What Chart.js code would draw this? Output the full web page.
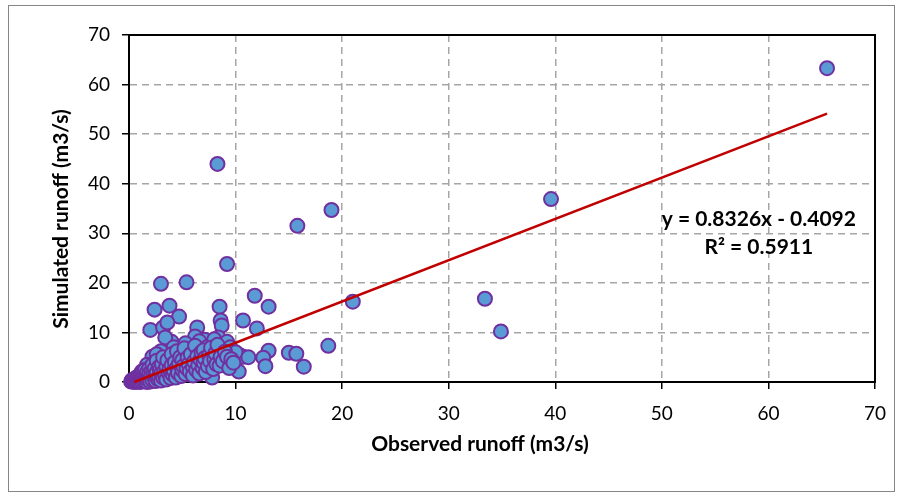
<!DOCTYPE html>
<html>
<head>
<meta charset="utf-8">
<script src="https://cdn.jsdelivr.net/npm/chart.js@4/dist/chart.umd.min.js"></script>
<style>
  html, body { margin: 0; padding: 0; background: #fff; }
  #wrap { width: 903px; height: 497px; }
</style>
</head>
<body>
<div id="wrap"><canvas id="chart" width="903" height="497"></canvas></div>
<script>
// observed vs simulated runoff (m3/s)
const observedRunoff = [
  65.5, 39.6, 19.0, 15.8, 8.3, 9.2, 5.4, 3.0, 21.0, 33.4,
  34.9, 18.7, 15.0, 15.7, 16.4, 11.8, 13.1, 10.7, 12.0, 8.5,
  8.6, 8.7, 8.4, 13.1, 12.6, 12.8, 10.4, 10.7, 10.3, 7.8,
  2.4, 3.8, 4.7, 2.0, 3.2, 3.6, 4.0, 3.4, 6.4, 6.2,
  7.1, 5.9, 9.2, 9.5, 10.0, 11.2, 9.0, 2.2, 1.7, 1.2,
  6.0, 5.0, 7.6, 3.0, 4.2, 5.3, 6.6, 7.3, 8.0, 2.6,
  0.2, 0.3, 0.4, 0.5, 0.5, 0.6, 0.7, 0.7, 0.8, 0.9,
  0.9, 1.0, 1.0, 1.1, 1.1, 1.2, 1.2, 1.3, 1.3, 1.4,
  1.4, 1.5, 1.5, 1.6, 1.6, 1.7, 1.7, 1.8, 1.8, 1.9,
  1.9, 2.0, 2.0, 2.1, 2.1, 2.2, 2.2, 2.3, 2.4, 2.4,
  2.5, 2.5, 2.6, 2.6, 2.7, 2.8, 2.8, 2.9, 3.0, 3.0,
  3.1, 3.2, 3.2, 3.3, 3.4, 3.5, 3.5, 3.6, 3.7, 3.8,
  3.9, 4.0, 4.0, 4.1, 4.2, 4.3, 4.4, 4.5, 4.5, 4.6,
  4.7, 4.8, 4.9, 5.0, 5.0, 5.1, 5.2, 5.3, 5.4, 5.5,
  5.6, 5.7, 5.8, 6.0, 6.0, 6.1, 6.2, 6.3, 6.4, 6.5,
  6.6, 6.7, 6.8, 6.9, 7.0, 7.0, 7.1, 7.2, 7.4, 7.5,
  7.6, 7.7, 7.9, 8.0, 8.1, 8.2, 8.3, 8.5, 8.6, 8.8,
  9.0, 9.2, 9.4, 9.6, 9.8
];
const simulatedRunoff = [
  63.3, 36.9, 34.7, 31.5, 44.0, 23.8, 20.1, 19.8, 16.2, 16.8,
  10.2, 7.3, 5.9, 5.7, 3.1, 17.4, 15.2, 12.4, 10.8, 15.2,
  12.4, 11.4, 9.0, 6.3, 4.9, 3.2, 5.4, 5.1, 2.1, 0.9,
  14.6, 15.4, 13.2, 10.5, 11.0, 12.0, 8.1, 9.0, 11.0, 9.2,
  8.5, 6.5, 8.1, 7.0, 6.0, 5.0, 4.0, 5.1, 3.5, 2.1,
  6.5, 5.1, 2.9, 6.2, 7.0, 7.8, 8.2, 7.0, 8.6, 5.6,
  0.1, 0.4, 0.2, 0.6, 0.0, 0.3, 0.9, 0.1, 0.5, 1.2,
  0.2, 0.7, 0.0, 1.5, 0.4, 0.9, 0.1, 1.9, 0.6, 1.2,
  0.2, 2.4, 0.8, 1.5, 0.3, 0.0, 2.0, 1.1, 0.5, 2.8,
  1.6, 0.8, 0.1, 2.2, 1.2, 3.5, 0.4, 1.8, 0.9, 2.7,
  0.2, 1.4, 4.3, 2.0, 0.6, 3.0, 1.1, 2.4, 0.3, 1.7,
  3.6, 0.9, 5.0, 2.2, 1.3, 3.1, 0.5, 4.4, 1.9, 2.6,
  0.8, 5.6, 3.4, 1.5, 2.3, 4.0, 0.9, 6.2, 2.9, 1.8,
  3.7, 5.0, 1.2, 2.4, 4.4, 3.2, 6.8, 1.6, 2.8, 4.9,
  3.6, 2.1, 5.6, 3.0, 1.3, 4.1, 7.3, 2.4, 5.2, 3.4,
  1.7, 4.5, 6.0, 2.8, 3.9, 6.4, 4.8, 2.0, 3.2, 5.4,
  4.2, 6.9, 2.6, 4.6, 5.8, 3.6, 7.5, 3.3, 5.1, 4.2,
  6.1, 5.1, 2.8, 4.6, 3.9
];

// linear trendline end points (y = 0.8326x - 0.4092)
const trendX = [0.5, 65.5];
const trendY = [0.0071, 54.126];

const axisTicks = [0, 10, 20, 30, 40, 50, 60, 70];
const xTitle = "Observed runoff (m3/s)";
const yTitle = "Simulated runoff (m3/s)";
const equationLines = ["y = 0.8326x - 0.4092", "R\u00b2 = 0.5911"];

const points = observedRunoff.map((x, i) => ({ x, y: simulatedRunoff[i] }));
const trend = trendX.map((x, i) => ({ x, y: trendY[i] }));

const FONT = "Lato, 'Open Sans', sans-serif";

// frame around plot area, outer border, axis titles (offset like the excel original) and trendline label
const framePlugin = {
    id: "frame",
    beforeDatasetsDraw(chart) {
        const { ctx, chartArea: a } = chart;
        ctx.save();
        ctx.strokeStyle = "#000";
        ctx.lineWidth = 2;
        ctx.strokeRect(a.left, a.top, a.right - a.left, a.bottom - a.top);
        ctx.restore();
    },
    afterDraw(chart) {
        const { ctx } = chart;
        const xs = chart.scales.x, ys = chart.scales.y;
        ctx.save();
        ctx.strokeStyle = "#868686";
        ctx.lineWidth = 1;
        ctx.strokeRect(8.5, 5.5, 886, 486);

        ctx.fillStyle = "#000";
        ctx.textAlign = "center";
        ctx.textBaseline = "middle";
        ctx.font = "bold 21px " + FONT;
        ctx.fillText(xTitle, 480, 444);
        ctx.save();
        ctx.translate(61, 219);
        ctx.rotate(-Math.PI / 2);
        ctx.fillText(yTitle, 0, 0);
        ctx.restore();

        ctx.fillText(equationLines[0], xs.getPixelForValue(59.1), ys.getPixelForValue(32.8));
        ctx.fillText(equationLines[1], xs.getPixelForValue(59.1), ys.getPixelForValue(27.2));
        ctx.restore();
    }
};

const setTicks = (s) => { s.ticks = axisTicks.map((v) => ({ value: v })); };

const gridOpts = {
    color: "#A6A6A6",
    lineWidth: 1.5,
    tickColor: "#000",
    tickLength: 7,
    tickWidth: 1.5,
    tickBorderDash: [],
};

new Chart(document.getElementById("chart"), {
    type: "scatter",
    data: {
        datasets: [
            {
                type: "line",
                data: trend,
                borderColor: "#C00000",
                borderWidth: 2.5,
                pointRadius: 0,
                fill: false,
                clip: false,
            },
            {
                data: points,
                backgroundColor: "#5B9BD5",
                borderColor: "#7030A0",
                borderWidth: 2,
                pointRadius: 7,
                clip: false,
            },
        ],
    },
    options: {
        responsive: false,
        animation: false,
        devicePixelRatio: 1,
        layout: { padding: { left: 45, top: 35, right: 28, bottom: 36 } },
        plugins: {
            legend: { display: false },
            tooltip: { enabled: false },
        },
        scales: {
            x: {
                type: "linear",
                min: 0,
                max: 70,
                afterBuildTicks: setTicks,
                afterFit: (s) => { s.height = 79; },
                border: { display: true, color: "#000", width: 2, dash: [7, 5] },
                grid: gridOpts,
                ticks: {
                    color: "#000",
                    padding: 13,
                    maxRotation: 0,
                    font: { family: FONT, size: 19 },
                },
            },
            y: {
                type: "linear",
                min: 0,
                max: 70,
                afterBuildTicks: setTicks,
                afterFit: (s) => { s.width = 84; },
                border: { display: true, color: "#000", width: 2, dash: [7, 5] },
                grid: gridOpts,
                ticks: {
                    color: "#000",
                    padding: 12,
                    font: { family: FONT, size: 19 },
                },
            },
        },
    },
    plugins: [framePlugin],
});
</script>
</body>
</html>
